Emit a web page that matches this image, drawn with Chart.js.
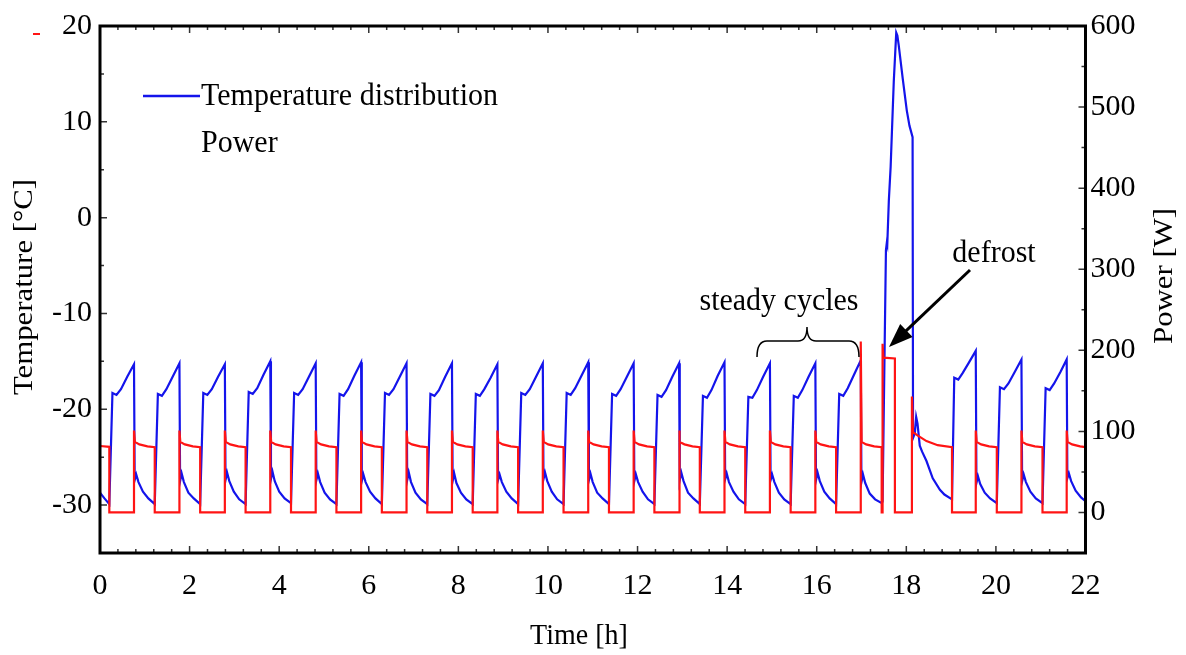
<!DOCTYPE html>
<html>
<head>
<meta charset="utf-8">
<script src="https://cdn.jsdelivr.net/npm/chart.js"></script>
<style>
  html, body { margin: 0; padding: 0; background: #fff; }
  #wrap { width: 1186px; height: 655px; position: relative; }
</style>
</head>
<body>
<div id="wrap"><canvas id="chart" width="1186" height="655"></canvas></div>
<script>
// time [h] / temperature [°C], one compressor cycle per line
const tempT = [
  0.000, 0.100,
  0.208, 0.278, 0.368, 0.468, 0.608, 0.759, 0.774, 0.809, 0.859, 0.959, 1.079,
  1.222, 1.292, 1.382, 1.482, 1.622, 1.773, 1.788, 1.823, 1.873, 1.973, 2.093,
  2.236, 2.306, 2.396, 2.496, 2.636, 2.787, 2.802, 2.837, 2.887, 2.987, 3.107,
  3.250, 3.320, 3.410, 3.510, 3.650, 3.801, 3.816, 3.851, 3.901, 4.001, 4.121,
  4.264, 4.334, 4.424, 4.524, 4.664, 4.815, 4.830, 4.865, 4.915, 5.015, 5.135,
  5.278, 5.348, 5.438, 5.538, 5.678, 5.829, 5.844, 5.879, 5.929, 6.029, 6.149,
  6.292, 6.362, 6.452, 6.552, 6.692, 6.843, 6.858, 6.893, 6.943, 7.043, 7.163,
  7.306, 7.376, 7.466, 7.566, 7.706, 7.857, 7.872, 7.907, 7.957, 8.057, 8.177,
  8.320, 8.390, 8.480, 8.580, 8.720, 8.871, 8.886, 8.921, 8.971, 9.071, 9.191,
  9.334, 9.404, 9.494, 9.594, 9.734, 9.885, 9.900, 9.935, 9.985, 10.085, 10.205,
  10.348, 10.418, 10.508, 10.608, 10.748, 10.899, 10.914, 10.949, 10.999, 11.099, 11.219,
  11.362, 11.432, 11.522, 11.622, 11.762, 11.913, 11.928, 11.963, 12.013, 12.113, 12.233,
  12.376, 12.446, 12.536, 12.636, 12.776, 12.927, 12.942, 12.977, 13.027, 13.127, 13.247,
  13.390, 13.460, 13.550, 13.650, 13.790, 13.941, 13.956, 13.991, 14.041, 14.141, 14.261,
  14.404, 14.474, 14.564, 14.664, 14.804, 14.955, 14.970, 15.005, 15.055, 15.155, 15.275,
  15.418, 15.488, 15.578, 15.678, 15.818, 15.969, 15.984, 16.019, 16.069, 16.169, 16.289,
  16.432, 16.502, 16.592, 16.692, 16.832, 16.983, 16.998, 17.033, 17.083, 17.183, 17.303,
  17.455, 17.470, 17.545, 17.565, 17.575, 17.610, 17.650, 17.720, 17.775, 17.800, 17.830,
  17.920, 18.010, 18.070, 18.140, 18.150, 18.190, 18.220, 18.250, 18.300, 18.350, 18.450,
  18.590, 18.750, 18.850,
  19.020, 19.070, 19.160, 19.260, 19.400, 19.550, 19.565, 19.600, 19.650, 19.750, 19.870,
  20.020, 20.090, 20.180, 20.280, 20.420, 20.570, 20.585, 20.620, 20.670, 20.770, 20.890,
  21.040, 21.110, 21.200, 21.300, 21.440, 21.580, 21.595, 21.630, 21.680, 21.780, 21.900,
  22.000
];
const tempC = [
  -28.7, -29.3,
  -29.9, -18.3, -18.5, -17.9, -16.6, -15.3, -27.4, -26.8, -27.6, -28.6, -29.3,
  -29.9, -18.4, -18.6, -17.9, -16.6, -15.2, -27.5, -26.7, -27.6, -28.7, -29.3,
  -29.9, -18.3, -18.5, -17.9, -16.6, -15.3, -27.4, -26.6, -27.5, -28.6, -29.4,
  -29.9, -18.2, -18.4, -17.8, -16.4, -15.0, -27.3, -26.5, -27.5, -28.6, -29.3,
  -29.8, -18.3, -18.5, -17.9, -16.6, -15.2, -27.4, -26.7, -27.6, -28.7, -29.4,
  -29.9, -18.4, -18.6, -17.9, -16.5, -15.1, -27.5, -26.8, -27.6, -28.6, -29.3,
  -29.9, -18.3, -18.5, -17.9, -16.6, -15.2, -27.4, -26.6, -27.6, -28.7, -29.4,
  -29.9, -18.4, -18.6, -18.0, -16.6, -15.2, -27.5, -26.7, -27.7, -28.7, -29.4,
  -29.9, -18.4, -18.6, -17.9, -16.7, -15.3, -27.4, -26.8, -27.6, -28.6, -29.3,
  -29.9, -18.3, -18.5, -17.9, -16.6, -15.2, -27.3, -26.6, -27.5, -28.6, -29.4,
  -29.9, -18.3, -18.5, -17.8, -16.5, -15.1, -27.4, -26.7, -27.6, -28.7, -29.3,
  -29.9, -18.4, -18.6, -17.9, -16.6, -15.2, -27.5, -26.8, -27.6, -28.6, -29.4,
  -29.9, -18.5, -18.7, -18.0, -16.6, -15.2, -27.4, -26.6, -27.5, -28.7, -29.3,
  -29.9, -18.6, -18.8, -18.0, -16.5, -15.1, -27.3, -26.7, -27.6, -28.6, -29.4,
  -29.9, -18.7, -18.8, -18.0, -16.6, -15.2, -27.4, -26.8, -27.6, -28.7, -29.4,
  -29.9, -18.6, -18.8, -18.0, -16.6, -15.2, -27.4, -26.6, -27.5, -28.6, -29.3,
  -29.9, -18.4, -18.6, -17.8, -16.4, -14.9, -27.6, -26.8, -27.7, -28.8, -29.4,
  -29.8, -29.6, -3.4, -2.6, -2.8, 1.8, 5.3, 14.2, 19.3, 19.0, 18.0,
  14.5, 11.2, 9.6, 8.4, -23.0, -22.5, -20.8, -21.5, -23.8, -24.4, -25.4,
  -27.2, -28.4, -28.9,
  -29.4, -16.7, -16.9, -16.2, -15.1, -13.9, -27.7, -27.0, -27.8, -28.7, -29.3,
  -29.8, -17.7, -17.9, -17.3, -16.1, -14.8, -27.5, -26.8, -27.6, -28.6, -29.3,
  -29.8, -17.8, -18.0, -17.3, -16.1, -14.8, -27.2, -26.7, -27.5, -28.5, -29.2,
  -29.6
];

// time [h] / power [W]
const powerT = [
  0.000,
  0.208, 0.208, 0.759, 0.759, 0.779, 0.879, 1.059,
  1.222, 1.222, 1.773, 1.773, 1.793, 1.893, 2.073,
  2.236, 2.236, 2.787, 2.787, 2.807, 2.907, 3.087,
  3.250, 3.250, 3.801, 3.801, 3.821, 3.921, 4.101,
  4.264, 4.264, 4.815, 4.815, 4.835, 4.935, 5.115,
  5.278, 5.278, 5.829, 5.829, 5.849, 5.949, 6.129,
  6.292, 6.292, 6.843, 6.843, 6.863, 6.963, 7.143,
  7.306, 7.306, 7.857, 7.857, 7.877, 7.977, 8.157,
  8.320, 8.320, 8.871, 8.871, 8.891, 8.991, 9.171,
  9.334, 9.334, 9.885, 9.885, 9.905, 10.005, 10.185,
  10.348, 10.348, 10.899, 10.899, 10.919, 11.019, 11.199,
  11.362, 11.362, 11.913, 11.913, 11.933, 12.033, 12.213,
  12.376, 12.376, 12.927, 12.927, 12.947, 13.047, 13.227,
  13.390, 13.390, 13.941, 13.941, 13.961, 14.061, 14.241,
  14.404, 14.404, 14.955, 14.955, 14.975, 15.075, 15.255,
  15.418, 15.418, 15.969, 15.969, 15.989, 16.089, 16.269,
  16.432, 16.432, 16.983, 16.983, 17.003, 17.103, 17.283,
  17.450, 17.450, 17.470, 17.470, 17.490, 17.745, 17.745,
  18.125, 18.125, 18.150, 18.250, 18.450, 18.700,
  19.020, 19.020, 19.550, 19.550, 19.570, 19.670, 19.850,
  20.020, 20.020, 20.570, 20.570, 20.590, 20.690, 20.870,
  21.040, 21.040, 21.580, 21.580, 21.600, 21.700, 21.880,
  22.000
];
const powerW = [
  82,
  81, 0, 0, 101, 87, 84, 81.5,
  80.5, 0, 0, 101, 87, 84, 81.5,
  80.5, 0, 0, 101, 87, 84, 81.5,
  80.5, 0, 0, 101, 87, 84, 81.5,
  80.5, 0, 0, 101, 87, 84, 81.5,
  80.5, 0, 0, 101, 87, 84, 81.5,
  80.5, 0, 0, 101, 87, 84, 81.5,
  80.5, 0, 0, 101, 87, 84, 81.5,
  80.5, 0, 0, 101, 87, 84, 81.5,
  80.5, 0, 0, 101, 87, 84, 81.5,
  80.5, 0, 0, 101, 87, 84, 81.5,
  80.5, 0, 0, 101, 87, 84, 81.5,
  80.5, 0, 0, 101, 87, 84, 81.5,
  80.5, 0, 0, 101, 87, 84, 81.5,
  80.5, 0, 0, 101, 87, 84, 81.5,
  80.5, 0, 0, 101, 87, 84, 81.5,
  80.5, 0, 0, 211, 87, 84, 81.5,
  80.5, 0, 0, 208, 191, 190, 0,
  0, 143, 99, 95, 88, 83,
  80.5, 0, 0, 101, 87, 84, 81.5,
  80.5, 0, 0, 101, 87, 84, 81.5,
  80.5, 0, 0, 101, 87, 84, 81.5,
  80.5
];

const timeTicks = [0, 2, 4, 6, 8, 10, 12, 14, 16, 18, 20, 22];
const tempTicks = [-30, -20, -10, 0, 10, 20];
const powerTicks = [0, 100, 200, 300, 400, 500, 600];

const FONT = "'Liberation Serif', 'Times New Roman', serif";

// text slightly taller than wide, as in the original figure
function stretchedText(ctx, text, x, y, size, rot) {
  ctx.save();
  ctx.translate(x, y);
  if (rot) {
    ctx.rotate(rot);
    ctx.scale(1.1, 1);
  } else {
    ctx.scale(1, 1.08);
  }
  ctx.font = size + "px " + FONT;
  ctx.fillText(text, 0, 0);
  ctx.restore();
}

const frame = {
  id: "frame",
  afterDraw(chart) {
    const { ctx, chartArea: a, scales } = chart;
    const x = scales.x, yl = scales.yT, yr = scales.yP;
    ctx.save();

    // inward ticks
    ctx.strokeStyle = "#333";
    ctx.lineWidth = 1.5;
    ctx.beginPath();
    for (let i = 0; i <= 55; i++) {
      const px = x.getPixelForValue(i * 0.4);
      const len = i % 5 === 0 ? 7 : 4;
      ctx.moveTo(px, a.bottom); ctx.lineTo(px, a.bottom - len);
      ctx.moveTo(px, a.top); ctx.lineTo(px, a.top + len);
    }
    for (let v = -35; v <= 20; v += 5) {
      const py = yl.getPixelForValue(v);
      const len = v % 10 === 0 ? 7 : 4;
      ctx.moveTo(a.left, py); ctx.lineTo(a.left + len, py);
    }
    for (let v = -50; v <= 600; v += 50) {
      const py = yr.getPixelForValue(v);
      const len = v % 100 === 0 ? 7 : 4;
      ctx.moveTo(a.right, py); ctx.lineTo(a.right - len, py);
    }
    ctx.stroke();

    // box
    ctx.strokeStyle = "#000";
    ctx.lineWidth = 3;
    ctx.strokeRect(a.left, a.top, a.right - a.left, a.bottom - a.top);

    // legend
    ctx.strokeStyle = "rgb(20,20,235)";
    ctx.lineWidth = 2.5;
    ctx.beginPath(); ctx.moveTo(143, 96); ctx.lineTo(200, 96); ctx.stroke();
    ctx.fillStyle = "rgb(255,20,20)";
    ctx.fillRect(33, 33, 7, 2);

    ctx.fillStyle = "#000";
    ctx.textBaseline = "middle";
    ctx.textAlign = "left";
    stretchedText(ctx, "Temperature distribution", 201, 96, 30);
    stretchedText(ctx, "Power", 201, 143, 30);

    // annotations
    ctx.textAlign = "center";
    stretchedText(ctx, "steady cycles", 779, 301, 30);
    stretchedText(ctx, "defrost", 994, 253, 30);

    ctx.strokeStyle = "#000";
    ctx.lineWidth = 1.5;
    ctx.beginPath();
    ctx.moveTo(757, 357);
    ctx.quadraticCurveTo(757, 341, 767, 341);
    ctx.lineTo(798, 341);
    ctx.quadraticCurveTo(807, 341, 807, 327);
    ctx.quadraticCurveTo(807, 341, 816, 341);
    ctx.lineTo(849, 341);
    ctx.quadraticCurveTo(859, 341, 859, 357);
    ctx.stroke();

    // arrow
    const tx = 889, ty = 347, sx = 970, sy = 270;
    const ang = Math.atan2(ty - sy, tx - sx);
    ctx.lineWidth = 3;
    ctx.beginPath();
    ctx.moveTo(sx, sy);
    ctx.lineTo(tx - 18 * Math.cos(ang), ty - 18 * Math.sin(ang));
    ctx.stroke();
    ctx.beginPath();
    ctx.moveTo(tx, ty);
    ctx.lineTo(tx - 24 * Math.cos(ang) + 9 * Math.sin(ang), ty - 24 * Math.sin(ang) - 9 * Math.cos(ang));
    ctx.lineTo(tx - 24 * Math.cos(ang) - 9 * Math.sin(ang), ty - 24 * Math.sin(ang) + 9 * Math.cos(ang));
    ctx.closePath();
    ctx.fill();

    // axis titles
    stretchedText(ctx, "Time [h]", 579, 636, 28);
    stretchedText(ctx, "Temperature [°C]", 25, 287, 28, -Math.PI / 2);
    stretchedText(ctx, "Power [W]", 1165, 276, 28, -Math.PI / 2);

    ctx.restore();
  }
};

const tickFont = { family: FONT, size: 30 };

const ctx = document.getElementById("chart").getContext("2d");
new Chart(ctx, {
  type: "line",
  data: {
    datasets: [
      {
        label: "Temperature distribution",
        data: tempT.map((t, i) => ({ x: t, y: tempC[i] })),
        yAxisID: "yT",
        borderColor: "rgb(20,20,235)",
        borderWidth: 2.2,
        pointRadius: 0,
        tension: 0,
        order: 2
      },
      {
        label: "Power",
        data: powerT.map((t, i) => ({ x: t, y: powerW[i] })),
        yAxisID: "yP",
        borderColor: "rgb(255,20,20)",
        borderWidth: 2.2,
        pointRadius: 0,
        tension: 0,
        order: 1
      }
    ]
  },
  options: {
    responsive: false,
    animation: false,
    layout: { padding: { top: 22, left: 0, right: 0, bottom: 0 } },
    plugins: { legend: { display: false }, tooltip: { enabled: false } },
    scales: {
      x: {
        type: "linear",
        min: 0,
        max: 22,
        grid: { display: false, drawTicks: false },
        border: { display: false },
        afterBuildTicks: s => { s.ticks = timeTicks.map(v => ({ value: v })); },
        afterFit: s => { s.height = 102; },
        ticks: { autoSkip: false, maxRotation: 0, padding: 15, color: "#000", font: tickFont }
      },
      yT: {
        type: "linear",
        position: "left",
        min: -35,
        max: 20,
        grid: { display: false, drawTicks: false },
        border: { display: false },
        afterBuildTicks: s => { s.ticks = tempTicks.map(v => ({ value: v })); },
        afterFit: s => { s.width = 100; },
        ticks: { padding: 8, color: "#000", font: tickFont }
      },
      yP: {
        type: "linear",
        position: "right",
        min: -50,
        max: 600,
        grid: { display: false, drawTicks: false },
        border: { display: false },
        afterBuildTicks: s => { s.ticks = powerTicks.map(v => ({ value: v })); },
        afterFit: s => { s.width = 100.5; },
        ticks: { padding: 5, color: "#000", font: tickFont }
      }
    }
  },
  plugins: [frame]
});
</script>
</body>
</html>
